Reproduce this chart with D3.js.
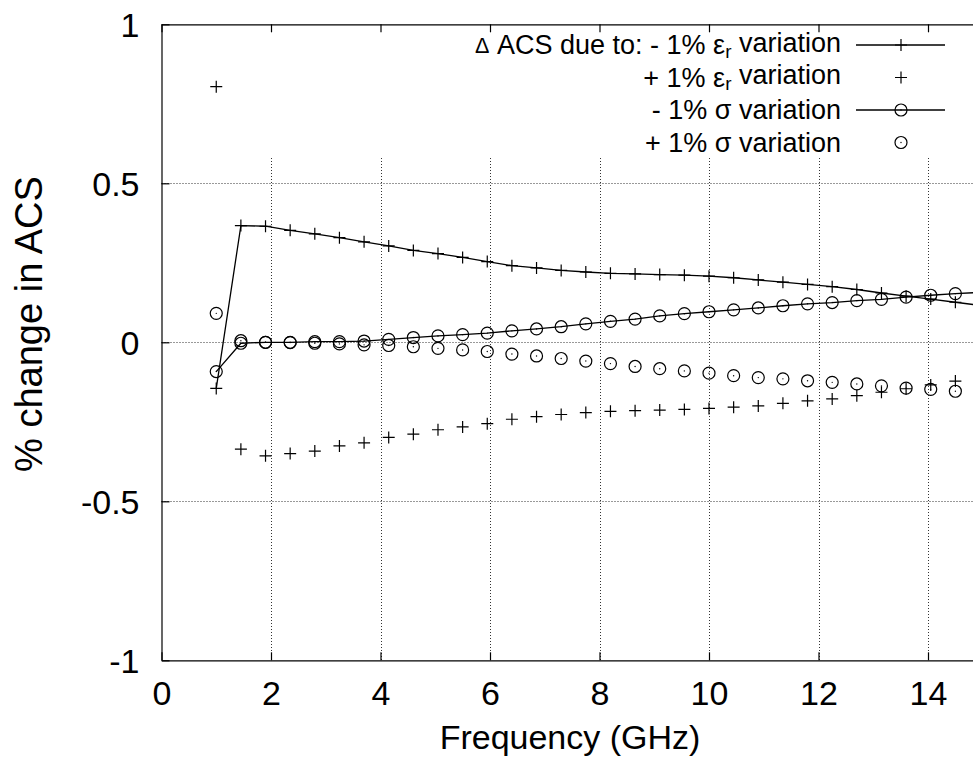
<!DOCTYPE html>
<html>
<head>
<meta charset="utf-8">
<script src="https://cdn.jsdelivr.net/npm/d3@7/dist/d3.min.js"></script>
<style>
  html, body { margin: 0; padding: 0; background: #fff; }
  svg { display: block; }
  text { font-family: "Liberation Sans", Arial, Helvetica, sans-serif; fill: #000; }
</style>
</head>
<body>
<svg id="chart" width="973" height="764"></svg>
<script>
// ---------- data ----------
const freq = [1.0, 1.45, 1.9, 2.35, 2.8, 3.25, 3.7, 4.15, 4.6, 5.05, 5.5, 5.95, 6.4, 6.85, 7.3, 7.75,
  8.2, 8.65, 9.1, 9.55, 10.0, 10.45, 10.9, 11.35, 11.8, 12.25, 12.7, 13.15, 13.6, 14.05, 14.5, 14.95];
const minusEps = [-0.145, 0.367, 0.365, 0.352, 0.341, 0.329, 0.316, 0.303, 0.289, 0.279, 0.267, 0.254,
  0.241, 0.234, 0.226, 0.221, 0.217, 0.215, 0.213, 0.211, 0.208, 0.203, 0.196, 0.189, 0.182, 0.175,
  0.166, 0.155, 0.145, 0.136, 0.126, 0.116];
const plusEps = [0.804, -0.336, -0.357, -0.350, -0.342, -0.326, -0.316, -0.299, -0.289, -0.275, -0.266,
  -0.256, -0.242, -0.234, -0.227, -0.221, -0.217, -0.215, -0.213, -0.211, -0.208, -0.204, -0.200,
  -0.192, -0.184, -0.178, -0.168, -0.157, -0.146, -0.134, -0.122, -0.112];
const minusSig = [-0.092, -0.003, 0.000, 0.000, 0.002, 0.002, 0.004, 0.009, 0.015, 0.020, 0.024, 0.029,
  0.036, 0.042, 0.049, 0.058, 0.066, 0.073, 0.083, 0.090, 0.096, 0.102, 0.108, 0.115, 0.121, 0.125,
  0.131, 0.135, 0.142, 0.148, 0.153, 0.157];
const plusSig = [0.091, 0.005, 0.000, -0.001, -0.003, -0.005, -0.008, -0.010, -0.014, -0.019, -0.024,
  -0.029, -0.037, -0.043, -0.051, -0.059, -0.067, -0.076, -0.083, -0.090, -0.097, -0.105, -0.111,
  -0.115, -0.121, -0.126, -0.131, -0.137, -0.144, -0.148, -0.154, -0.158];
const xTicks = [0, 2, 4, 6, 8, 10, 12, 14];
const xTickLabels = ["0", "2", "4", "6", "8", "10", "12", "14"];
const yTicks = [-1, -0.5, 0, 0.5, 1];
const yTickLabels = ["-1", "-0.5", "0", "0.5", "1"];
const xTitle = "Frequency (GHz)";
const yTitle = "% change in ACS";

// ---------- layout ----------
const svg = d3.select("#chart");
svg.append("rect").attr("width", 973).attr("height", 764).attr("fill", "#fff");

const plotLeft = 161.5, plotTop = 24.3, plotBottom = 660.3;
const x = d3.scaleLinear().domain([0, 16]).range([plotLeft, plotLeft + 16 * 54.75]);
const y = d3.scaleLinear().domain([-1, 1]).range([plotBottom, plotTop]);
const xMax = x(16);

// grid
const grid = svg.append("g").attr("stroke", "#333").attr("stroke-width", 1)
  .attr("stroke-dasharray", "1,2").attr("fill", "none");
yTicks.filter(v => v > -1 && v < 1).forEach(v => {
  grid.append("line").attr("x1", plotLeft).attr("x2", xMax)
    .attr("y1", Math.round(y(v)) + 0.5).attr("y2", Math.round(y(v)) + 0.5);
});
xTicks.filter(v => v > 0).forEach(v => {
  grid.append("line").attr("x1", Math.round(x(v)) + 0.5).attr("x2", Math.round(x(v)) + 0.5)
    .attr("y1", 158).attr("y2", plotBottom);
});

// axes
const fs = 34;
const yAxis = d3.axisLeft(y).tickValues(yTicks)
  .tickFormat((d, i) => yTickLabels[i]).tickSizeInner(-8).tickSizeOuter(0).tickPadding(22);
const gy = svg.append("g").attr("transform", `translate(${plotLeft},0)`).call(yAxis);
gy.selectAll("text").attr("font-size", fs).attr("dy", "0.36em");

const xAxis = d3.axisBottom(x).tickValues(xTicks)
  .tickFormat((d, i) => xTickLabels[i]).tickSizeInner(-8).tickSizeOuter(0).tickPadding(21);
const gx = svg.append("g").attr("transform", `translate(0,${plotBottom})`).call(xAxis);
gx.selectAll("text").attr("font-size", fs);

const xTop = d3.axisTop(x).tickValues(xTicks).tickFormat("").tickSizeInner(-8).tickSizeOuter(0);
svg.append("g").attr("transform", `translate(0,${plotTop})`).call(xTop);

svg.selectAll(".domain, .tick line").attr("stroke", "#000").attr("stroke-width", 1.2);
svg.selectAll(".tick text").attr("font-family", "Liberation Sans, Arial, sans-serif");

// axis titles
svg.append("text").attr("x", 570).attr("y", 737).attr("text-anchor", "middle")
  .attr("dominant-baseline", "central").attr("font-size", fs).text(xTitle);
svg.append("text").attr("transform", `translate(29,324) rotate(-90)`)
  .attr("text-anchor", "middle").attr("dominant-baseline", "central")
  .attr("font-size", 38).text(yTitle);

// ---------- series ----------
const plot = svg.append("g");
const line = d3.line().x(d => x(d[0])).y(d => y(d[1]));
const pts = arr => freq.map((f, i) => [f, arr[i]]);

function plusMark(g, cx, cy) {
  g.append("path").attr("d", `M${cx - 6},${cy}H${cx + 6}M${cx},${cy - 6}V${cy + 6}`)
    .attr("stroke", "#000").attr("stroke-width", 1.2).attr("fill", "none");
}
function circleMark(g, cx, cy) {
  g.append("circle").attr("cx", cx).attr("cy", cy).attr("r", 6)
    .attr("stroke", "#000").attr("stroke-width", 1.2).attr("fill", "none");
  g.append("circle").attr("cx", cx).attr("cy", cy).attr("r", 0.7).attr("fill", "#000");
}

const series = [
  { data: minusEps, lined: true, mark: plusMark },
  { data: plusEps, lined: false, mark: plusMark },
  { data: minusSig, lined: true, mark: circleMark },
  { data: plusSig, lined: false, mark: circleMark }
];
series.forEach(s => {
  const p = pts(s.data);
  if (s.lined) {
    plot.append("path").datum(p).attr("d", line).attr("fill", "none")
      .attr("stroke", "#000").attr("stroke-width", 1.3);
  }
  const g = plot.append("g");
  p.forEach(d => s.mark(g, x(d[0]), y(d[1])));
});

// ---------- legend ----------
const legendRows = [
  { pre: "- 1% ", sym: "ε", sub: "r", post: " variation", lead: true },
  { pre: "+ 1% ", sym: "ε", sub: "r", post: " variation" },
  { pre: "- 1% ", sym: "σ", sub: "", post: " variation" },
  { pre: "+ 1% ", sym: "σ", sub: "", post: " variation" }
];
const lfs = 27;
const lg = svg.append("g");
legendRows.forEach((r, i) => {
  const ly = 45 + i * 32.5;
  const t = lg.append("text").attr("x", 841).attr("y", ly).attr("text-anchor", "end")
    .attr("dominant-baseline", "central").attr("font-size", lfs);
  if (r.lead) {
    t.append("tspan").attr("font-size", lfs * 0.8).text("Δ");
    t.append("tspan").text(" ACS due to: ");
  }
  t.append("tspan").text(r.pre + r.sym);
  if (r.sub) {
    t.append("tspan").attr("font-size", lfs * 0.7).attr("dy", "0.3em").text(r.sub);
    t.append("tspan").attr("dy", "-0.3em").text(r.post);
  } else {
    t.append("tspan").text(r.post);
  }
  const s = series[i];
  if (s.lined) {
    lg.append("line").attr("x1", 856).attr("x2", 945).attr("y1", ly).attr("y2", ly)
      .attr("stroke", "#000").attr("stroke-width", 1.3);
  }
  s.mark(lg, 901, ly);
});
</script>
</body>
</html>
